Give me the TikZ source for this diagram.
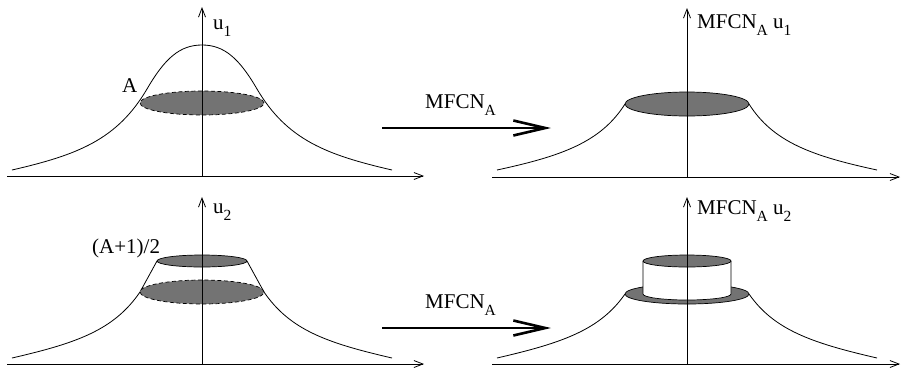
\documentclass[tikz,border=0pt]{standalone}
\usepackage{fontspec}
\setmainfont{Liberation Serif}
\usetikzlibrary{arrows.meta}
\definecolor{discgray}{RGB}{115,115,115}
\newcommand{\lowsub}[1]{\raisebox{-0.38em}{\fontsize{15.5}{15.5}\selectfont #1}}
\begin{document}
\begin{tikzpicture}[x=1pt,y=-1pt,
  axis/.style={line width=0.8pt,-{Straight Barb[length=9pt,width=7pt]}},
  curve/.style={line width=0.8pt},
  disc/.style={fill=discgray,draw=black,line width=0.7pt},
  dashdisc/.style={disc,dash pattern=on 4pt off 2.5pt},
  bigarrow/.style={line width=2.6pt,-{Straight Barb[length=32pt,width=15pt]}},
  lbl/.style={font=\fontsize{21}{25}\selectfont,inner sep=0pt,anchor=base west}]
\useasboundingbox (0,0) rectangle (901,368);

% ---------- top left: u_1 ----------
\begin{scope}[shift={(202,176)}]
\draw[curve] (-190,-6) .. controls (-125,-21) and (-85,-36) .. (-55,-87)
  .. controls (-37,-118) and (-22,-131) .. (0,-131)
  .. controls (22,-131) and (37,-118) .. (55,-87)
  .. controls (85,-36) and (125,-21) .. (190,-6);
\draw[dashdisc] (0,-73) ellipse [x radius=62pt,y radius=12pt];
\end{scope}

% ---------- bottom left: u_2 ----------
\begin{scope}[shift={(202,364)}]
\draw[curve] (-190,-6) .. controls (-125,-21) and (-88,-34) .. (-62,-72) -- (-45,-103);
\draw[curve] (45,-103) -- (62,-72) .. controls (88,-34) and (125,-21) .. (190,-6);
\draw[dashdisc] (0,-72) ellipse [x radius=62pt,y radius=12pt];
\draw[disc] (0,-103) ellipse [x radius=45pt,y radius=6pt];
\end{scope}

% ---------- top right: MFCN_A u_1 ----------
\begin{scope}[shift={(687,177)}]
\draw[curve] (-190,-7) .. controls (-125,-21) and (-86,-35) .. (-62,-73);
\draw[curve] (62,-73) .. controls (86,-35) and (125,-21) .. (190,-7);
\draw[disc] (0,-73) ellipse [x radius=62pt,y radius=12pt];
\end{scope}

% ---------- bottom right: MFCN_A u_2 ----------
\begin{scope}[shift={(687,364)}]
\draw[curve] (-190,-6) .. controls (-125,-21) and (-87,-34) .. (-62,-70);
\draw[curve] (62,-70) .. controls (87,-34) and (125,-21) .. (190,-6);
\draw[disc] (0,-70) ellipse [x radius=62pt,y radius=10pt];
\fill[white] (-44,-103) -- (-44,-70) arc[start angle=180,end angle=360,x radius=44pt,y radius=6pt] -- (44,-103) -- cycle;
\draw[line width=0.7pt] (-44,-103) -- (-44,-70) arc[start angle=180,end angle=360,x radius=44pt,y radius=6pt] -- (44,-103);
\draw[disc] (0,-103) ellipse [x radius=44pt,y radius=6pt];
\end{scope}

% ---------- axes ----------
\coordinate (x1s) at (7,176);   \coordinate (x1e) at (424,176);
\coordinate (o1)  at (202,176); \coordinate (y1e) at (202,7);
\coordinate (x2s) at (7,364);   \coordinate (x2e) at (424,364);
\coordinate (o2)  at (202,364); \coordinate (y2e) at (202,197);
\coordinate (x3s) at (492,177); \coordinate (x3e) at (900,177);
\coordinate (o3)  at (687,177); \coordinate (y3e) at (687,8);
\coordinate (x4s) at (492,364); \coordinate (x4e) at (900,364);
\coordinate (o4)  at (687,364); \coordinate (y4e) at (687,197);
\draw[axis] (x1s) -- (x1e);
\draw[axis] (o1) -- (y1e);
\draw[axis] (x2s) -- (x2e);
\draw[axis] (o2) -- (y2e);
\draw[axis] (x3s) -- (x3e);
\draw[axis] (o3) -- (y3e);
\draw[axis] (x4s) -- (x4e);
\draw[axis] (o4) -- (y4e);

% ---------- transformation arrows ----------
\coordinate (t1s) at (382,128); \coordinate (t1e) at (551,128);
\coordinate (t2s) at (382,328); \coordinate (t2e) at (551,328);
\draw[bigarrow] (t1s) -- (t1e);
\draw[bigarrow] (t2s) -- (t2e);

% ---------- labels ----------
\node[lbl] (lu1) at (213,29) {u\lowsub{1}};
\node[lbl] (lA)  at (122,92) {A};
\node[lbl] (lu2) at (213,213) {u\lowsub{2}};
\node[lbl] (lA2) at (92,253) {(A+1)/2};
\node[lbl] (lm1) at (697,28) {MFCN\lowsub{A} u\lowsub{1}};
\node[lbl] (lm2) at (697,214) {MFCN\lowsub{A} u\lowsub{2}};
\node[lbl] (lt1) at (425,108) {MFCN\lowsub{A}};
\node[lbl] (lt2) at (425,308) {MFCN\lowsub{A}};
\end{tikzpicture}
\end{document}
